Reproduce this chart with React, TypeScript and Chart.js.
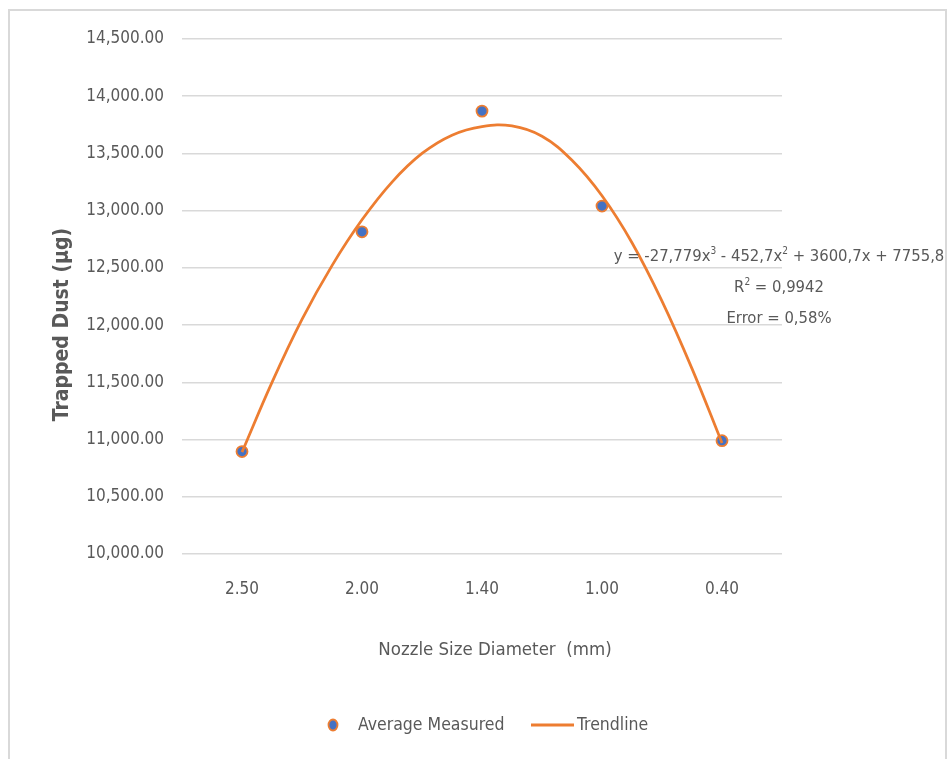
import React, { useEffect, useRef } from "react";
import { Chart, registerables } from "chart.js";

Chart.register(...registerables);

// ---- data ----
const categories = ["2.50", "2.00", "1.40", "1.00", "0.40"];
const measuredValues = [10895, 12815, 13870, 13040, 10990];
const trendPositions = [1, 1.25, 1.5, 1.75, 2, 2.25, 2.5, 2.75, 3, 3.25, 3.5, 3.75, 4, 4.25, 4.5, 4.75, 5];
const trendValues = [10890, 11500, 12050, 12520, 12920, 13250, 13500, 13660, 13735, 13740, 13650, 13440, 13130, 12720, 12210, 11620, 10970];
const yMin = 10000;
const yMax = 14500;
const yStep = 500;
const seriesNames = ["Average Measured", "Trendline"];
const xTitle = "Nozzle Size Diameter  (mm)";
const yTitle = "Trapped Dust (µg)";
const equationParts = [
  { t: "y = -27,779x" },
  { t: "3", sup: true },
  { t: " - 452,7x" },
  { t: "2", sup: true },
  { t: " + 3600,7x + 7755,8" },
];
const rSquaredParts = [{ t: "R" }, { t: "2", sup: true }, { t: " = 0,9942" }];
const errorParts = [{ t: "Error = 0,58%" }];

// ---- style ----
const FONT = '"DejaVu Sans Condensed", "Liberation Sans Narrow", "Arial Narrow", sans-serif';
const TEXT = "#595959";
const ORANGE = "#ED7D31";
const BLUE = "#4472C4";
const GRID = "#d9d9d9";

type Part = { t: string; sup?: boolean };

function drawParts(ctx: CanvasRenderingContext2D, parts: Part[], cx: number, cy: number, size: number) {
  const supSize = Math.round(size * 0.62);
  const widths = parts.map((p) => {
    ctx.font = `${p.sup ? supSize : size}px ${FONT}`;
    return ctx.measureText(p.t).width;
  });
  const total = widths.reduce((a, b) => a + b, 0);
  let x = cx - total / 2;
  ctx.textAlign = "left";
  ctx.textBaseline = "middle";
  parts.forEach((p, i) => {
    ctx.font = `${p.sup ? supSize : size}px ${FONT}`;
    ctx.fillText(p.t, x, p.sup ? cy - size * 0.32 : cy);
    x += widths[i];
  });
}

const decorPlugin = {
  id: "decor",
  beforeDraw(chart: any) {
    const ctx = chart.ctx as CanvasRenderingContext2D;
    ctx.save();
    ctx.fillStyle = "#ffffff";
    ctx.fillRect(0, 0, chart.width, chart.height);
    ctx.strokeStyle = GRID;
    ctx.lineWidth = 2;
    ctx.strokeRect(9, 10, 937, 760);
    ctx.restore();
  },
  afterDraw(chart: any) {
    const ctx = chart.ctx as CanvasRenderingContext2D;
    const area = chart.chartArea;
    ctx.save();
    ctx.fillStyle = TEXT;

    // y title
    ctx.save();
    ctx.translate(area.left - 119, (area.top + area.bottom) / 2 + 28);
    ctx.rotate(-Math.PI / 2);
    ctx.font = `bold 21px ${FONT}`;
    ctx.textAlign = "center";
    ctx.textBaseline = "middle";
    ctx.fillText(yTitle, 0, 0);
    ctx.restore();

    // x title
    ctx.font = `18.5px ${FONT}`;
    ctx.textAlign = "center";
    ctx.textBaseline = "middle";
    ctx.fillText(xTitle, (area.left + area.right) / 2 + 13, area.bottom + 96);

    // trendline annotation
    const ax = area.right - 3;
    drawParts(ctx, equationParts, ax, 257, 16.5);
    drawParts(ctx, rSquaredParts, ax, 288, 16.5);
    drawParts(ctx, errorParts, ax, 319, 16.5);

    // legend
    const ly = area.bottom + 171;
    ctx.beginPath();
    ctx.ellipse(333, ly, 4.5, 5.5, 0, 0, Math.PI * 2);
    ctx.fillStyle = BLUE;
    ctx.fill();
    ctx.strokeStyle = ORANGE;
    ctx.lineWidth = 1.8;
    ctx.stroke();
    ctx.fillStyle = TEXT;
    ctx.font = `17.5px ${FONT}`;
    ctx.textAlign = "left";
    ctx.textBaseline = "middle";
    ctx.fillText(seriesNames[0], 358, ly);
    ctx.beginPath();
    ctx.moveTo(531, ly);
    ctx.lineTo(574, ly);
    ctx.strokeStyle = ORANGE;
    ctx.lineWidth = 3;
    ctx.stroke();
    ctx.fillText(seriesNames[1], 577, ly);
    ctx.restore();
  },
};

export default function App() {
  const canvasRef = useRef<HTMLCanvasElement | null>(null);

  useEffect(() => {
    document.body.style.margin = "0";
    document.body.style.overflow = "hidden";
    const canvas = canvasRef.current;
    if (!canvas) return;
    const chart = new Chart(canvas, {
      type: "scatter",
      data: {
        datasets: [
          {
            label: seriesNames[1],
            data: trendPositions.map((x, i) => ({ x, y: trendValues[i] })),
            showLine: true,
            pointRadius: 0,
            borderColor: ORANGE,
            backgroundColor: ORANGE,
            borderWidth: 2.75,
            tension: 0.4,
            order: 0,
          },
          {
            label: seriesNames[0],
            data: measuredValues.map((y, i) => ({ x: i + 1, y })),
            showLine: false,
            pointRadius: 5.5,
            pointBackgroundColor: BLUE,
            pointBorderColor: ORANGE,
            pointBorderWidth: 1.8,
            order: 1,
          },
        ],
      },
      options: {
        animation: false,
        responsive: false,
        maintainAspectRatio: false,
        events: [],
        layout: { padding: { left: 9, right: 166, top: 39, bottom: 0 } },
        plugins: { legend: { display: false }, tooltip: { enabled: false } },
        scales: {
          x: {
            type: "linear",
            min: 0.5,
            max: 5.5,
            afterBuildTicks: (s: any) => {
              s.ticks = categories.map((_, i) => ({ value: i + 1 }));
            },
            afterFit: (s: any) => {
              s.height = 205;
            },
            ticks: {
              autoSkip: false,
              maxRotation: 0,
              padding: 25,
              color: TEXT,
              font: { family: FONT, size: 17 },
              callback: (v: any) => categories[Math.round(Number(v)) - 1] ?? "",
            },
            grid: { display: false, drawTicks: false },
            border: { display: false },
          },
          y: {
            min: yMin,
            max: yMax,
            afterFit: (s: any) => {
              s.width = 173;
            },
            ticks: {
              stepSize: yStep,
              padding: 18,
              color: TEXT,
              font: { family: FONT, size: 17 },
              callback: (v: any) =>
                Number(v).toLocaleString("en-US", { minimumFractionDigits: 2, maximumFractionDigits: 2 }),
            },
            grid: { color: GRID, lineWidth: 1.5, drawTicks: false },
            border: { display: false },
          },
        },
      },
      plugins: [decorPlugin],
    });
    return () => chart.destroy();
  }, []);

  return (
    <div style={{ width: 948, height: 759, position: "relative" }}>
      <canvas ref={canvasRef} width={948} height={759} style={{ display: "block" }} />
    </div>
  );
}
